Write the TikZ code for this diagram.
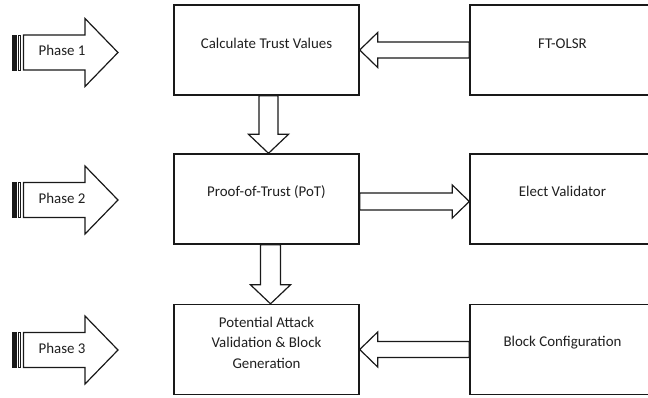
\documentclass[tikz,border=0pt]{standalone}
\usepackage{fontspec}
\setmainfont{Carlito}
\usetikzlibrary{calc}
\tikzset{
  box/.style={draw=black!90, line width=1.4pt, minimum width=185pt, minimum height=90pt,
    inner sep=0pt, text height=7pt, text depth=12pt, text=black!88,
    font=\fontsize{14.9}{20.5}\selectfont},
  barr/.style={draw=black!90, line width=1.2pt, fill=white, line join=miter},
  phasetxt/.style={anchor=base west, inner sep=0pt, text=black!88,
    font=\fontsize{14.9}{17}\selectfont},
  stripe/.style={draw=black!90, line width=1pt},
}
\newcommand{\blockarrow}[5]{%
  \coordinate (bh) at ($(#2)!#5!(#1)$);
  \draw[barr] ($(#1)!#3!90:(#2)$) -- ($(bh)!#3!90:(#2)$) -- ($(bh)!#4!90:(#2)$) -- (#2)
    -- ($(bh)!#4!-90:(#2)$) -- ($(bh)!#3!-90:(#2)$) -- ($(#1)!#3!-90:(#2)$) -- cycle;}
\newcommand{\phasearrow}[1]{%
  \draw[stripe, fill=black!90] (12.5,#1-17.5) rectangle (16.5,#1+17.5);
  \draw[stripe, fill=white] (18.5,#1-17.5) rectangle (20.5,#1+17.5);
  \draw[barr] (23.5,#1-17.5) -- (85,#1-17.5) -- (85,#1-34) -- (118,#1) -- (85,#1+34)
    -- (85,#1+17.5) -- (23.5,#1+17.5) -- cycle;}
\begin{document}
\begin{tikzpicture}[x=1pt,y=-1pt]
\useasboundingbox (0,0) rectangle (648,397);
% boxes
\node[box, text height=8pt, text depth=11pt] (calc) at (266.5,50) {Calculate Trust Values};
\node[box, text height=8pt, text depth=11pt] (ft) at (562.5,50) {FT-OLSR};
\node[box, text height=6pt, text depth=12pt] (pot) at (266.5,199) {Proof-of-Trust (PoT)};
\node[box, text height=6pt, text depth=12pt] (elect) at (562.5,199) {Elect Validator};
\node[box, align=center, text height=, text depth=] (pav) at (266.5,349.5) {Potential Attack\\Validation \& Block\\Generation\rule[-14pt]{0pt}{14pt}};
\node[box, text height=6pt, text depth=12pt] (bc) at (562.5,349.5) {Block Configuration};
% block arrows between boxes
\blockarrow{ft.west}{calc.east}{8pt}{17.5pt}{18pt}
\coordinate (d1a) at ($(calc.south)+(2,0)$);
\coordinate (d1b) at ($(pot.north)+(2,0)$);
\blockarrow{d1a}{d1b}{9.5pt}{20pt}{19pt}
\coordinate (e1a) at ($(pot.east)+(0,2.5)$);
\coordinate (e1b) at ($(elect.west)+(0,2.5)$);
\blockarrow{e1a}{e1b}{8.5pt}{16.5pt}{17pt}
\coordinate (d2a) at ($(pot.south)+(4,0)$);
\coordinate (d2b) at ($(pav.north)+(4,0)$);
\blockarrow{d2a}{d2b}{10pt}{20pt}{19pt}
\blockarrow{bc.west}{pav.east}{8pt}{17.5pt}{18pt}
% phase arrows
\phasearrow{52.5}
\phasearrow{200}
\phasearrow{350}
\node[phasetxt] (p1) at (38.5,55.5) {Phase 1};
\node[phasetxt] (p2) at (38.5,203.5) {Phase 2};
\node[phasetxt] (p3) at (38.5,353.5) {Phase 3};
\end{tikzpicture}
\end{document}
